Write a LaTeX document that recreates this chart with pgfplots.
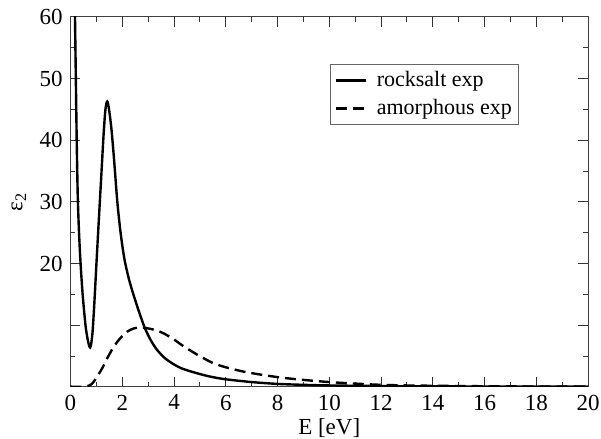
\documentclass[border=0pt]{standalone}
\usepackage{fontspec}
\setmainfont{Liberation Serif}
\usepackage{pgfplots}
\pgfplotsset{compat=1.18}

\begin{document}
\fontsize{23}{27}\selectfont
\begin{tikzpicture}
\begin{axis}[
  name=ax,
  scale only axis,
  width=517.5pt, height=370pt,
  xmin=0, xmax=20, ymin=0, ymax=60,
  xtick={0,2,...,20}, minor x tick num=1,
  ytick={0,10,...,60}, yticklabels={,,20,30,40,50,60}, minor y tick num=1,
  major tick length=10pt, minor tick length=5pt,
  axis line style={black!75, line width=1pt},
  every tick/.style={black!80, line width=1pt},
  /pgf/number format/assume math mode=true,
  tick label style={font=\fontsize{23}{27}\selectfont},
  label style={font=\fontsize{23}{27}\selectfont},
  xlabel={E [eV]},
  ylabel={ε\textsubscript{2}},
  xlabel style={yshift=7pt},
  ylabel style={yshift=-2pt},
  legend cell align=left,
  legend style={at={(0.865,0.873)}, anchor=north east,
    draw=black!60, line width=0.6pt, font=\fontsize{22}{26}\selectfont,
    row sep=5pt, inner xsep=4pt, inner ysep=5pt,
    /tikz/every odd column/.append style={column sep=8pt}},
  legend image code/.code={\draw[#1] (0pt,0pt) -- (30pt,0pt);},
]
% rocksalt, experimental
\addplot[black, line width=2.4pt, smooth, tension=0.5] coordinates {
  (0.16,64) (0.2,52) (0.24,40) (0.28,31) (0.33,25) (0.39,20) (0.47,15)
  (0.58,10) (0.66,7.8) (0.72,6.7) (0.76,6.4) (0.8,7.0) (0.85,8.8)
  (0.9,12) (0.95,15.8) (1.0,19.8) (1.1,27.5) (1.2,35) (1.28,41)
  (1.35,45) (1.42,46.3) (1.49,45) (1.59,41.5) (1.7,36) (1.8,30.5)
  (1.9,26.3) (2.0,23.0) (2.1,20.4) (2.24,17.8) (2.38,15.7) (2.5,14.1)
  (2.64,12.3) (2.87,9.6) (3.1,7.6) (3.35,6.0) (3.7,4.5) (4.25,3.1)
  (5,2.1) (5.5,1.6) (6,1.25) (7,0.8) (8,0.5) (9,0.35) (10,0.25)
  (12,0.15) (14,0.1) (16,0.08) (20,0.05)
};
\addlegendentry{rocksalt exp}
% amorphous, experimental
\addplot[black, line width=2.4pt, dash pattern=on 11pt off 6pt, smooth, tension=0.5] coordinates {
  (0,0.05) (0.5,0.05) (0.7,0.2) (0.85,0.6) (1.0,1.5) (1.22,3.0) (1.45,4.9)
  (1.67,6.5) (1.9,7.8) (2.2,9.0) (2.45,9.5) (2.7,9.65) (3.0,9.5) (3.3,9.2)
  (3.6,8.7) (4.0,7.7) (4.3,6.8) (4.6,6.0) (5.0,5.0) (5.5,3.9) (6.0,3.2)
  (6.8,2.4) (8,1.6) (9,1.15) (10,0.8) (11,0.55) (12,0.35) (13,0.25)
  (14,0.2) (16,0.12) (18,0.08) (20,0.05)
};
\addlegendentry{amorphous exp}
\end{axis}
\pgfresetboundingbox
\path ([xshift=-70.5pt,yshift=-52pt]ax.south west) rectangle ([xshift=13pt,yshift=17pt]ax.north east);
\end{tikzpicture}
\end{document}
